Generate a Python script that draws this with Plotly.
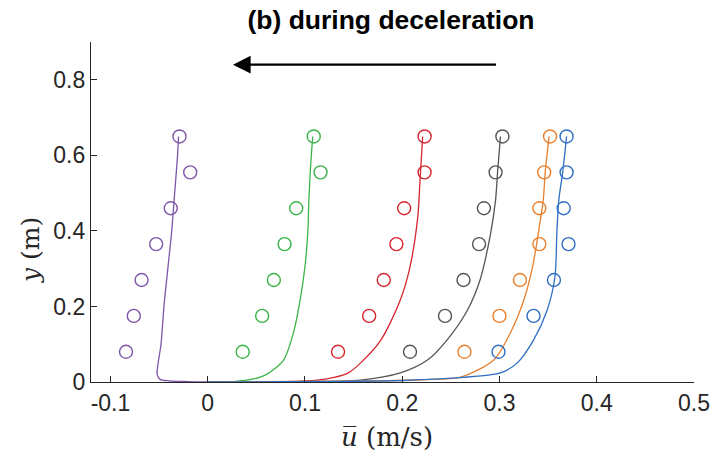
import plotly.graph_objects as go

# measurement heights (m)
y_meas = [0.08, 0.175, 0.27, 0.365, 0.46, 0.555, 0.65]

# measured mean velocities (m/s)
u_purple = [-0.084, -0.076, -0.068, -0.053, -0.038, -0.018, -0.029]
u_green = [0.036, 0.056, 0.068, 0.079, 0.091, 0.116, 0.109]
u_red = [0.134, 0.166, 0.181, 0.194, 0.202, 0.223, 0.223]
u_grey = [0.208, 0.244, 0.263, 0.279, 0.284, 0.296, 0.303]
u_orange = [0.264, 0.300, 0.321, 0.341, 0.341, 0.346, 0.352]
u_blue = [0.299, 0.335, 0.356, 0.371, 0.366, 0.369, 0.369]

# model profiles (u, y)
purple_u = [0.0, -0.02, -0.04, -0.049, -0.052, -0.051, -0.048, -0.045, -0.041, -0.037, -0.034, -0.031, -0.030]
purple_y = [0.0, 0.001, 0.003, 0.007, 0.02, 0.05, 0.1, 0.2, 0.3, 0.4, 0.5, 0.6, 0.65]
green_u = [0.0, 0.027, 0.047, 0.061, 0.078, 0.088, 0.095, 0.100, 0.103, 0.104, 0.106, 0.108]
green_y = [0.0, 0.001, 0.008, 0.021, 0.058, 0.129, 0.217, 0.305, 0.4, 0.482, 0.58, 0.65]
red_u = [0.0, 0.08, 0.113, 0.13, 0.145, 0.157, 0.178, 0.198, 0.208, 0.216, 0.218, 0.221]
red_y = [0.0, 0.001, 0.005, 0.012, 0.025, 0.05, 0.111, 0.217, 0.305, 0.437, 0.52, 0.65]
grey_u = [0.0, 0.1, 0.157, 0.198, 0.226, 0.246, 0.267, 0.280, 0.291, 0.296, 0.298, 0.301]
grey_y = [0.0, 0.001, 0.005, 0.024, 0.058, 0.111, 0.19, 0.27, 0.395, 0.482, 0.555, 0.65]
orange_u = [0.0, 0.157, 0.22, 0.26, 0.294, 0.311, 0.325, 0.334, 0.340, 0.345, 0.347, 0.351]
orange_y = [0.0, 0.002, 0.006, 0.013, 0.058, 0.129, 0.217, 0.305, 0.395, 0.482, 0.555, 0.65]
blue_u = [0.0, 0.2, 0.25, 0.301, 0.318, 0.335, 0.349, 0.357, 0.359, 0.361, 0.365, 0.369]
blue_y = [0.0, 0.004, 0.01, 0.024, 0.05, 0.111, 0.19, 0.278, 0.395, 0.482, 0.555, 0.65]

x_ticks = [-0.1, 0, 0.1, 0.2, 0.3, 0.4, 0.5]
x_ticktext = ["-0.1", "0", "0.1", "0.2", "0.3", "0.4", "0.5"]
y_ticks = [0, 0.2, 0.4, 0.6, 0.8]
y_ticktext = ["0", "0.2", "0.4", "0.6", "0.8"]

series = [
    ("#7E55A8", purple_u, purple_y, u_purple),
    ("#3BB44A", green_u, green_y, u_green),
    ("#D7262F", red_u, red_y, u_red),
    ("#555555", grey_u, grey_y, u_grey),
    ("#E8802E", orange_u, orange_y, u_orange),
    ("#2F6FC4", blue_u, blue_y, u_blue),
]

fig = go.Figure()
for col, lu, ly, mu in series:
    fig.add_trace(go.Scatter(x=lu, y=ly, mode="lines", line=dict(color=col, width=1.3, shape="spline", smoothing=0.8),
                             showlegend=False, hoverinfo="skip"))
    fig.add_trace(go.Scatter(x=mu, y=y_meas, mode="markers",
                             marker=dict(symbol="circle-open", size=13, color=col, line=dict(width=1.4, color=col)),
                             showlegend=False))

axis_col = "#262626"
L, R, T, B, W, H = 91, 20, 42, 74, 714, 456
PW, PH = W - L - R, H - T - B
fig.update_layout(
    width=W, height=H,
    margin=dict(l=L, r=R, t=T, b=B),
    plot_bgcolor="white", paper_bgcolor="white",
    font=dict(family="Liberation Sans, Arial, sans-serif", size=23, color=axis_col),
    title=dict(text="<b>(b) during deceleration</b>", x=391 / W, xref="container", xanchor="center",
               y=1 - 20 / H, yanchor="middle", font=dict(size=26.5, color="black", family="Liberation Sans, Arial, sans-serif")),
    xaxis=dict(range=[-0.12, 0.5], tickvals=x_ticks, ticktext=x_ticktext, showgrid=False, zeroline=False,
               showline=True, linecolor=axis_col, linewidth=1.2, ticks="inside", ticklen=6, tickcolor=axis_col,
               automargin=False),
    yaxis=dict(range=[0, 0.9], tickvals=y_ticks, ticktext=y_ticktext, showgrid=False, zeroline=False,
               showline=True, linecolor=axis_col, linewidth=1.2, ticks="inside", ticklen=6, tickcolor=axis_col,
               automargin=False),
)

fig.add_annotation(x=(387 - L) / PW, y=(H - B - 437) / PH, xref="paper", yref="paper",
                   xanchor="center", yanchor="middle", text="<i>u\u0305</i> (m/s)", showarrow=False,
                   font=dict(family="DejaVu Serif, serif", size=26, color=axis_col))
fig.add_annotation(x=(30 - L) / PW, y=(H - B - 250) / PH, xref="paper", yref="paper",
                   xanchor="center", yanchor="middle", text="<i>y</i> (m)", showarrow=False, textangle=-90,
                   font=dict(family="DejaVu Serif, serif", size=25, color=axis_col))

fig.add_annotation(x=0.026, y=0.84, ax=0.298, ay=0.84, xref="x", yref="y", axref="x", ayref="y",
                   text="", showarrow=True, arrowhead=2, arrowsize=1.6, arrowwidth=2.2, arrowcolor="black")

fig.write_html("out.html", config={"displayModeBar": False},
               post_script="document.body.style.margin='0';")
